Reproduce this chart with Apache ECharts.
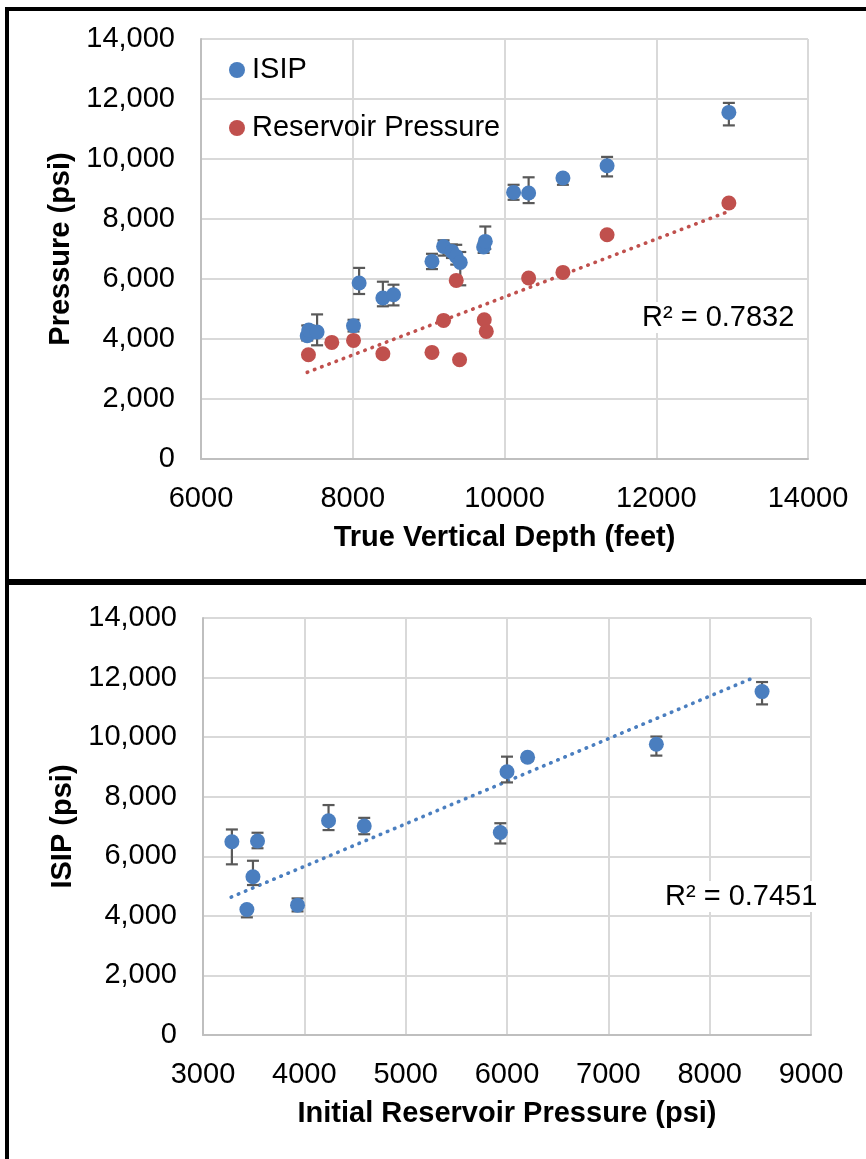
<!DOCTYPE html>
<html>
<head>
<meta charset="utf-8">
<script src="https://cdn.jsdelivr.net/npm/echarts@6/dist/echarts.min.js"></script>
<style>
html,body{margin:0;padding:0;background:#fff;}
#c{width:866px;height:1159px;}
</style>
</head>
<body>
<div id="c"></div>
<script>
// ---------- Top chart: pressure vs true vertical depth ----------
const isipTVD   = [7400, 7420, 7530, 8010, 8084, 8397, 8537, 9044, 9197, 9307, 9364, 9417, 9725, 9747, 10120, 10318, 10770, 11352, 12957];
const isipTop   = [4110, 4300, 4230, 4443, 5867, 5367, 5477, 6587, 7087, 6920, 6753, 6553, 7067, 7253, 8887, 8867, 9367, 9777, 11553];
const isipTopLo = [3950, 4150, 3790, 4250, 5500, 5090, 5120, 6330, 6780, 6700, 6480, 5790, 6870, 7000, 8640, 8530, 9140, 9420, 11120];
const isipTopHi = [4450, 4450, 4820, 4640, 6370, 5910, 5810, 6840, 7290, 7150, 7140, 6900, 7200, 7750, 9140, 9390, 9480, 10070, 11870];

const resTVD = [7416, 7724, 8010, 8397, 9044, 9197, 9364, 9408, 9733, 9760, 10318, 10770, 11352, 12957];
const resP   = [3477, 3887, 3953, 3510, 3553, 4620, 5953, 3310, 4643, 4253, 6033, 6220, 7477, 8533];

const topTrendX = [7400, 12950];
const topTrendY = [2890, 8250];
const topR2 = 'R² = 0.7832';

// ---------- Bottom chart: ISIP vs initial reservoir pressure ----------
const irp      = [3285, 3433, 3493, 3538, 3933, 4239, 4591, 5934, 6000, 6203, 7474, 8517];
const isipBot  = [6490, 4215, 5311, 6511, 4359, 7193, 7015, 6800, 8840, 9324, 9761, 11529];
const isipBotLo= [5730, 3950, 5035, 6270, 4150, 6880, 6740, 6430, 8480, 9200, 9380, 11100];
const isipBotHi= [6900, 4300, 5850, 6790, 4585, 7720, 7290, 7110, 9345, 9420, 10020, 11850];

const botTrendX = [3278, 8458];
const botTrendY = [4630, 12030];
const botR2 = 'R² = 0.7451';

// ---------- styling ----------
const FONT = "'Liberation Sans', Arial, sans-serif";
const BLUE = '#4a7ebf';
const RED = '#c0504d';
const GRID = '#d9d9d9';
const AXIS = '#bfbfbf';
const FS = 29;

const pairs = (xs, ys) => xs.map((x, i) => [x, ys[i]]);
const triples = (xs, lo, hi) => xs.map((x, i) => [x, lo[i], hi[i]]);

function errorRender(params, api) {
  const x = api.value(0), lo = api.value(1), hi = api.value(2);
  const a = api.coord([x, lo]), b = api.coord([x, hi]);
  const hw = 6;
  const st = { stroke: '#595959', lineWidth: 2.2, fill: null };
  return { type: 'group', children: [
    { type: 'line', shape: { x1: a[0], y1: a[1], x2: b[0], y2: b[1] }, style: st },
    { type: 'line', shape: { x1: a[0] - hw, y1: a[1], x2: a[0] + hw, y2: a[1] }, style: st },
    { type: 'line', shape: { x1: b[0] - hw, y1: b[1], x2: b[0] + hw, y2: b[1] }, style: st }
  ]};
}

function xAxisCfg(gi, min, max, interval, name, gap) {
  return {
    gridIndex: gi, type: 'value', min, max, interval,
    name, nameLocation: 'middle', nameGap: gap,
    nameTextStyle: { fontFamily: FONT, fontSize: FS, fontWeight: 'bold', color: '#000' },
    axisLine: { show: true, lineStyle: { color: AXIS, width: 2 } },
    axisTick: { show: false },
    axisLabel: { fontFamily: FONT, fontSize: FS, color: '#000', margin: 25, formatter: v => String(v) },
    splitLine: { show: true, lineStyle: { color: GRID, width: 2 } }
  };
}
function yAxisCfg(gi, name, gap) {
  return {
    gridIndex: gi, type: 'value', min: 0, max: 14000, interval: 2000,
    name, nameLocation: 'middle', nameGap: gap,
    nameTextStyle: { fontFamily: FONT, fontSize: FS, fontWeight: 'bold', color: '#000' },
    axisLine: { show: true, lineStyle: { color: AXIS, width: 2 } },
    axisTick: { show: false },
    axisLabel: { fontFamily: FONT, fontSize: FS, color: '#000', margin: 26,
      formatter: v => v.toLocaleString('en-US') },
    splitLine: { show: true, lineStyle: { color: GRID, width: 2 } }
  };
}

const chart = echarts.init(document.getElementById('c'), null, { renderer: 'canvas' });
chart.setOption({
  backgroundColor: '#fff',
  animation: false,
  textStyle: { fontFamily: FONT },
  grid: [
    { left: 201, top: 39, width: 607, height: 420 },
    { left: 203, top: 618, width: 608, height: 417 }
  ],
  xAxis: [
    xAxisCfg(0, 6000, 14000, 2000, 'True Vertical Depth (feet)', 64),
    xAxisCfg(1, 3000, 9000, 1000, 'Initial Reservoir Pressure (psi)', 64)
  ],
  yAxis: [
    yAxisCfg(0, 'Pressure (psi)', 123),
    yAxisCfg(1, 'ISIP (psi)', 125)
  ],
  legend: {
    data: ['ISIP', 'Reservoir Pressure'],
    orient: 'vertical', left: 224, top: 50, itemGap: 28,
    icon: 'circle', itemWidth: 16, itemHeight: 16,
    textStyle: { fontFamily: FONT, fontSize: FS, color: '#000', lineHeight: 30, padding: [0, 0, 0, 2] }
  },
  graphic: [
    { type: 'rect', shape: { x: 5, y: 7, width: 4, height: 1160 }, style: { fill: '#000' } },
    { type: 'rect', shape: { x: 5, y: 7, width: 870, height: 4 }, style: { fill: '#000' } },
    { type: 'rect', shape: { x: 5, y: 579, width: 870, height: 6 }, style: { fill: '#000' } },
    { type: 'text', left: 640, top: 302, z: 10,
      style: { text: topR2, font: `${FS}px ${FONT}`, fill: '#000', backgroundColor: '#fff', padding: [1, 2, 1, 2] } },
    { type: 'text', left: 663, top: 881, z: 10,
      style: { text: botR2, font: `${FS}px ${FONT}`, fill: '#000', backgroundColor: '#fff', padding: [1, 2, 1, 2] } }
  ],
  series: [
    { type: 'line', name: 'trendTop', xAxisIndex: 0, yAxisIndex: 0, data: pairs(topTrendX, topTrendY),
      showSymbol: false, symbol: 'none', z: 1, silent: true,
      lineStyle: { color: RED, width: 3.6, type: [0.5, 7.2], cap: 'round' } },
    { type: 'custom', name: 'errTop', xAxisIndex: 0, yAxisIndex: 0, renderItem: errorRender,
      data: triples(isipTVD, isipTopLo, isipTopHi), z: 2, silent: true },
    { type: 'scatter', name: 'ISIP', xAxisIndex: 0, yAxisIndex: 0, data: pairs(isipTVD, isipTop),
      symbolSize: 15, itemStyle: { color: BLUE, opacity: 1 }, z: 3 },
    { type: 'scatter', name: 'Reservoir Pressure', xAxisIndex: 0, yAxisIndex: 0, data: pairs(resTVD, resP),
      symbolSize: 15, itemStyle: { color: RED, opacity: 1 }, z: 3 },

    { type: 'line', name: 'trendBot', xAxisIndex: 1, yAxisIndex: 1, data: pairs(botTrendX, botTrendY),
      showSymbol: false, symbol: 'none', z: 1, silent: true,
      lineStyle: { color: BLUE, width: 3.6, type: [0.5, 7.2], cap: 'round' } },
    { type: 'custom', name: 'errBot', xAxisIndex: 1, yAxisIndex: 1, renderItem: errorRender,
      data: triples(irp, isipBotLo, isipBotHi), z: 2, silent: true },
    { type: 'scatter', name: 'ISIP2', xAxisIndex: 1, yAxisIndex: 1, data: pairs(irp, isipBot),
      symbolSize: 15, itemStyle: { color: BLUE, opacity: 1 }, z: 3 }
  ]
});
</script>
</body>
</html>
